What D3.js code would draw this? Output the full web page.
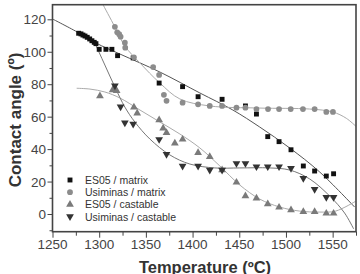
<!DOCTYPE html>
<html>
<head>
<meta charset="utf-8">
<script src="https://cdn.jsdelivr.net/npm/d3@7"></script>
<style>
  body { margin: 0; background: #fff; }
  svg { display: block; font-family: "Liberation Sans", Arial, sans-serif; }
</style>
</head>
<body>
<script>
// measured points, temperature (ºC) / contact angle (º)
var es05MatrixT = [1278, 1280.5, 1282.6, 1284.8, 1287.2, 1289.8, 1292.2, 1294.7, 1296.5, 1300, 1307.2, 1313.6, 1319.7, 1336.4, 1364.2, 1389.3, 1405.9, 1431.6, 1456.6, 1468.4, 1480.5, 1492.6, 1505.4, 1518.6, 1530.7, 1543.2, 1551];
var es05MatrixA = [111.4, 111, 110.3, 109.7, 108.9, 107.9, 106.8, 105.8, 105, 101.5, 101.5, 101.5, 97.6, 96.2, 80.7, 78.5, 72.3, 70.7, 66.6, 61.6, 47.7, 44.6, 39.6, 29.6, 26.5, 23.4, 24.8];

var usiMatrixT = [1316.8, 1319.3, 1321.4, 1322.9, 1327.5, 1327.9, 1337.2, 1357.8, 1364.2, 1369.3, 1372.1, 1389.3, 1405.9, 1418.4, 1431.6, 1447, 1456.6, 1468.4, 1480.8, 1492.6, 1505.1, 1518.2, 1530.7, 1543.2, 1550.3];
var usiMatrixA = [115.4, 112, 110.8, 109.3, 105.6, 102.5, 96.6, 90.6, 85.7, 73.5, 69.8, 68.6, 67.6, 66.6, 66.6, 65.5, 65.5, 64.7, 64.7, 64.7, 64.7, 64.7, 64.7, 62.9, 62.9];

var es05CastT = [1300.8, 1314.4, 1318.7, 1337.2, 1340.7, 1364.2, 1368.5, 1372.1, 1381, 1389.3, 1405.9, 1418.4, 1431.6, 1447, 1456.6, 1468.4, 1480.5, 1492.6, 1505.4, 1518.6, 1530.7, 1543.2, 1551];
var es05CastA = [72.7, 76.4, 76, 65.8, 62.1, 57.9, 52.8, 50.1, 43.6, 46, 37.8, 35.3, 27.1, 19.5, 11.1, 9.7, 6.2, 4.1, 2.5, 1.4, 1.4, 0.4, 0.4];

var usiCastT = [1316.8, 1322.9, 1327.5, 1336.4, 1364.2, 1372.1, 1389.3, 1405.9, 1418.4, 1431.6, 1447, 1456.6, 1468.4, 1480.5, 1492.6, 1505.4, 1518.6, 1530.7, 1543.2, 1551];
var usiCastA = [79.1, 66.1, 56.3, 55.5, 46, 36.8, 29.6, 29.6, 27.1, 27.1, 31.2, 31.2, 29.2, 29.2, 29.2, 28.2, 22, 15.2, 10.3, 10.3];

// fitted curves
var fitEs05MatrixT = [1250, 1278.3, 1296.5, 1322.2, 1365, 1407.8, 1443.1, 1471.9, 1504, 1536.1, 1573.5];
var fitEs05MatrixA = [120.2, 111.6, 105.4, 98.6, 87.5, 74.6, 64.1, 53.6, 40.7, 25.9, 4.3];
var fitUsiMatrixT = [1304.3, 1316.8, 1327.5, 1343.6, 1365, 1386.4, 1418.4, 1471.9, 1525.4, 1550, 1564.6, 1575];
var fitUsiMatrixA = [128.8, 115.3, 103.5, 93.1, 80.7, 70.9, 66.6, 65.3, 64.7, 62.9, 59, 54];
var fitEs05CastT = [1275.9, 1290.1, 1306.1, 1322.2, 1343.6, 1365, 1386.4, 1407.8, 1429.2, 1450.5, 1471.9, 1493.3, 1514.7, 1536.1, 1553.2, 1575];
var fitEs05CastA = [77.5, 77, 75.2, 71.5, 64.1, 56.7, 49.3, 40.7, 29.6, 17.9, 9.2, 4.3, 1.8, 1.2, 1.8, 8];
var fitUsiCastT = [1295.5, 1306.1, 1316.8, 1327.5, 1338.2, 1354.3, 1375.7, 1397.1, 1423.8, 1450.5, 1482.6, 1504, 1525.4, 1546.8, 1562.8, 1572.5];
var fitUsiCastA = [105.2, 91.8, 78.3, 65.9, 56.7, 46.2, 36.4, 30.8, 28.4, 28.4, 28.4, 27.1, 21.6, 11.1, 0.6, -9.2];

var xTicks = [1250, 1300, 1350, 1400, 1450, 1500, 1550];
var yTicks = [0, 20, 40, 60, 80, 100, 120];
var legendLabels = ['ES05 / matrix', 'Usiminas / matrix', 'ES05 / castable', 'Usiminas / castable'];

var width = 360, height = 274;
var pl = 52.5, pr = 356, pt = 4.7, pb = 231.7;

var x = d3.scaleLinear().domain([1250, 1575]).range([pl, pr]);
var y = d3.scaleLinear().domain([-10.9, 129]).range([pb, pt]);

var svg = d3.select('body').append('svg')
  .attr('width', width)
  .attr('height', height);

svg.append('defs').append('clipPath').attr('id', 'plot')
  .append('rect')
  .attr('x', pl).attr('y', pt)
  .attr('width', pr - pl).attr('height', pb - pt);

var zip = function(a, b) {
  return a.map(function(v, i) { return [v, b[i]]; });
};

// fits
var line = d3.line()
  .x(function(d) { return x(d[0]); })
  .y(function(d) { return y(d[1]); })
  .curve(d3.curveCatmullRom.alpha(0.5));

var fits = [
  [zip(fitEs05MatrixT, fitEs05MatrixA), '#555'],
  [zip(fitUsiMatrixT, fitUsiMatrixA), '#aaa'],
  [zip(fitEs05CastT, fitEs05CastA), '#aaa'],
  [zip(fitUsiCastT, fitUsiCastA), '#777']
];

var fitG = svg.append('g').attr('clip-path', 'url(#plot)');
fits.forEach(function(f) {
  fitG.append('path')
    .attr('d', line(f[0]))
    .attr('fill', 'none')
    .attr('stroke', f[1])
    .attr('stroke-width', 1);
});

// markers
var series = [
  { pts: zip(es05MatrixT, es05MatrixA), type: d3.symbolSquare, size: 24, color: '#111', rot: 0 },
  { pts: zip(usiMatrixT, usiMatrixA), type: d3.symbolCircle, size: 26, color: '#8c8c8c', rot: 0 },
  { pts: zip(es05CastT, es05CastA), type: d3.symbolTriangle, size: 26, color: '#7a7a7a', rot: 0 },
  { pts: zip(usiCastT, usiCastA), type: d3.symbolTriangle, size: 26, color: '#333', rot: 180 }
];

series.forEach(function(s) {
  svg.append('g').selectAll('path')
    .data(s.pts)
    .enter()
    .append('path')
    .attr('d', d3.symbol().type(s.type).size(s.size))
    .attr('fill', s.color)
    .attr('transform', function(d) {
      return 'translate(' + x(d[0]) + ',' + y(d[1]) + ') rotate(' + s.rot + ')';
    });
});

// axes
var xAxis = svg.append('g')
  .attr('transform', 'translate(0,' + pb + ')')
  .call(d3.axisBottom(x).tickValues(d3.range(1250, 1576, 25)).tickSize(4).tickFormat(''));
var yAxis = svg.append('g')
  .attr('transform', 'translate(' + pl + ',0)')
  .call(d3.axisLeft(y).tickValues(d3.range(-10, 130, 10)).tickSize(3).tickFormat(''));

[xAxis, yAxis].forEach(function(a) {
  a.select('.domain').remove();
  a.selectAll('line').attr('stroke', '#444').attr('stroke-width', 1);
});
xAxis.selectAll('.tick').filter(function(d) { return d % 50 == 0; }).select('line').attr('y2', 6);
yAxis.selectAll('.tick').filter(function(d) { return d % 20 == 0; }).select('line').attr('x2', -5);

svg.append('g').selectAll('text')
  .data(xTicks)
  .enter()
  .append('text')
  .attr('x', function(d) { return x(d); })
  .attr('y', 249)
  .attr('text-anchor', 'middle')
  .attr('font-size', 13.5)
  .attr('fill', '#444')
  .text(function(d) { return d; });

svg.append('g').selectAll('text')
  .data(yTicks)
  .enter()
  .append('text')
  .attr('x', 46)
  .attr('y', function(d) { return y(d) + 5; })
  .attr('text-anchor', 'end')
  .attr('font-size', 13.5)
  .attr('fill', '#444')
  .text(function(d) { return d; });

// frame
svg.append('rect')
  .attr('x', pl).attr('y', pt)
  .attr('width', pr - pl).attr('height', pb - pt)
  .attr('fill', 'none')
  .attr('stroke', '#444')
  .attr('stroke-width', 1.6);

// titles
svg.append('text')
  .attr('x', 205)
  .attr('y', 273)
  .attr('text-anchor', 'middle')
  .attr('font-size', 16.5)
  .attr('font-weight', 'bold')
  .attr('fill', '#333')
  .text('Temperature (ºC)');

svg.append('text')
  .attr('transform', 'translate(21,120) rotate(-90)')
  .attr('text-anchor', 'middle')
  .attr('font-size', 17)
  .attr('font-weight', 'bold')
  .attr('fill', '#333')
  .text('Contact angle (º)');

// legend
var legend = svg.append('g').selectAll('g')
  .data(series)
  .enter()
  .append('g')
  .attr('transform', function(d, i) { return 'translate(70,' + (180 + i * 12.2) + ')'; });

legend.append('path')
  .attr('d', function(d) { return d3.symbol().type(d.type).size(d.size)(); })
  .attr('fill', function(d) { return d.color; })
  .attr('transform', function(d) { return 'rotate(' + d.rot + ')'; });

legend.append('text')
  .attr('x', 15)
  .attr('y', 4)
  .attr('font-size', 10.5)
  .attr('fill', '#333')
  .text(function(d, i) { return legendLabels[i]; });
</script>
</body>
</html>
